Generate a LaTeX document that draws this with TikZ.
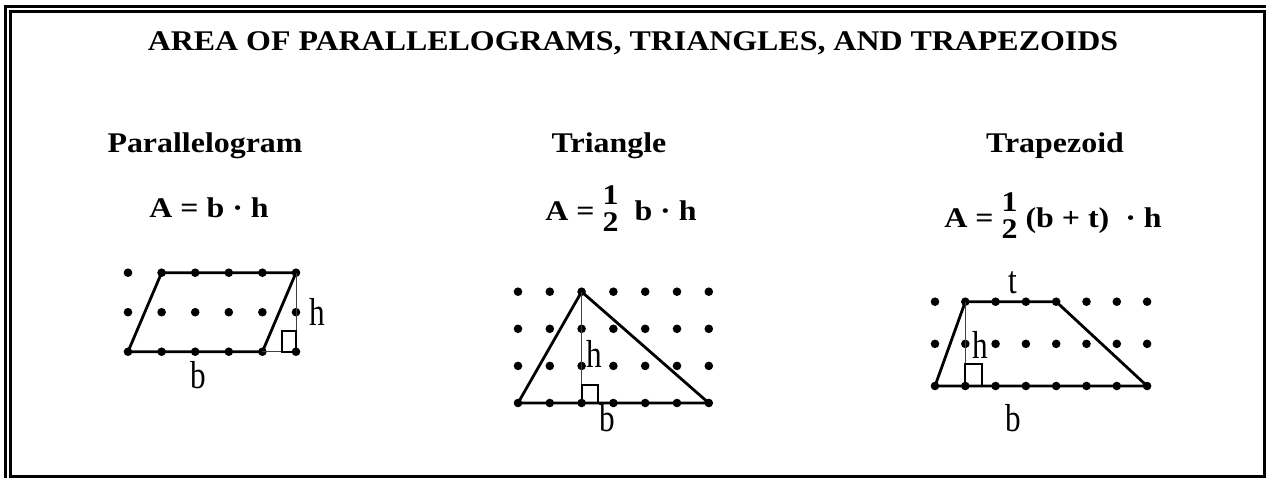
\documentclass[tikz,border=0pt]{standalone}
\usepackage{fontspec}
\setmainfont{Liberation Serif}[FakeStretch=1.12]
\newfontfamily\labelfont{Liberation Serif}[FakeStretch=0.8]
\usetikzlibrary{positioning}
\newcommand{\halffrac}{\raisebox{-5.5pt}{\shortstack{1\\[1pt]2}}}
\tikzset{
  headtxt/.style={font=\fontsize{14.25}{16}\selectfont\bfseries, anchor=base, inner sep=0pt},
  lbl/.style={font=\labelfont\fontsize{19.5}{22}\selectfont, anchor=base, inner sep=0pt},
  gdot/.style={circle, fill=black, inner sep=0pt, minimum size=4.3pt},
  shapeline/.style={line width=1.4pt, line join=round},
  htline/.style={line width=0.5pt, draw=black!75},
  rsq/.style={line width=1pt},
  framebar/.style={line width=1.5pt}
}

\begin{document}
\begin{tikzpicture}[x=0.5pt, y=-0.5pt]
  \useasboundingbox (0,0) rectangle (1266,478);
  % frame
  \draw[framebar] (5.5,478) |- (1266,6);
  \draw[framebar] (10.5,476.5) rectangle (1264.5,11.5);

  % headings
  \node[headtxt] (title) at (633,50) {AREA OF PARALLELOGRAMS, TRIANGLES, AND TRAPEZOIDS};
  \node[headtxt] (partitle) at (205,152) {Parallelogram};
  \node[headtxt] (trititle) at (609,152) {Triangle};
  \node[headtxt] (traptitle) at (1055,152) {Trapezoid};
  \node[headtxt] (parform) at (209,217) {A = b · h};
  \node[headtxt] (triform) at (621,220) {A = \halffrac\ \ b · h};
  \node[headtxt] (trapform) at (1053,227) {A = \halffrac\ (b + t) \ · h};

  % parallelogram
  \foreach \i in {0,...,5}
    \foreach \j in {0,1,2}
      \node[gdot] (p-\i-\j) at ({128+33.6*\i},{272.7+39.5*\j}) {};
  \draw[shapeline] (p-0-2.center) -- (p-4-2.center) -- (p-5-0.center) -- (p-1-0.center) -- cycle;
  \draw[htline] (p-5-0.center) -- (p-5-2.center);
  \draw[htline] (p-4-2.center) -- (p-5-2.center);
  \draw[rsq] (p-5-2.center) rectangle ++(-14,-21);
  \node[lbl, anchor=base west] (parh) at (309,325) {h};
  \node[lbl] (parb) at (198,388) {b};

  % triangle
  \foreach \i in {0,...,6}
    \foreach \j in {0,...,3}
      \node[gdot] (t-\i-\j) at ({518+31.8*\i},{291.7+37.1*\j}) {};
  \draw[shapeline] (t-0-3.center) -- (t-2-0.center) -- (t-6-3.center) -- cycle;
  \draw[htline] (t-2-0.center) -- (t-2-3.center);
  \draw[rsq] (t-2-3.center) rectangle ++(16,-18);
  \node[lbl, anchor=base west] (trih) at (586,367) {h};
  \node[lbl] (trib) at (607,431) {b};

  % trapezoid
  \foreach \i in {0,...,7}
    \foreach \j in {0,1,2}
      \node[gdot] (z-\i-\j) at ({935+30.3*\i},{301.7+42.15*\j}) {};
  \draw[shapeline] (z-0-2.center) -- (z-1-0.center) -- (z-4-0.center) -- (z-7-2.center) -- cycle;
  \draw[htline] (z-1-0.center) -- (z-1-2.center);
  \draw[rsq] (z-1-2.center) rectangle ++(17,-22);
  \node[lbl, anchor=base west] (traph) at (972,358) {h};
  \node[lbl] (trapt) at (1013,293) {t};
  \node[lbl] (trapb) at (1013,431) {b};
\end{tikzpicture}
\end{document}
